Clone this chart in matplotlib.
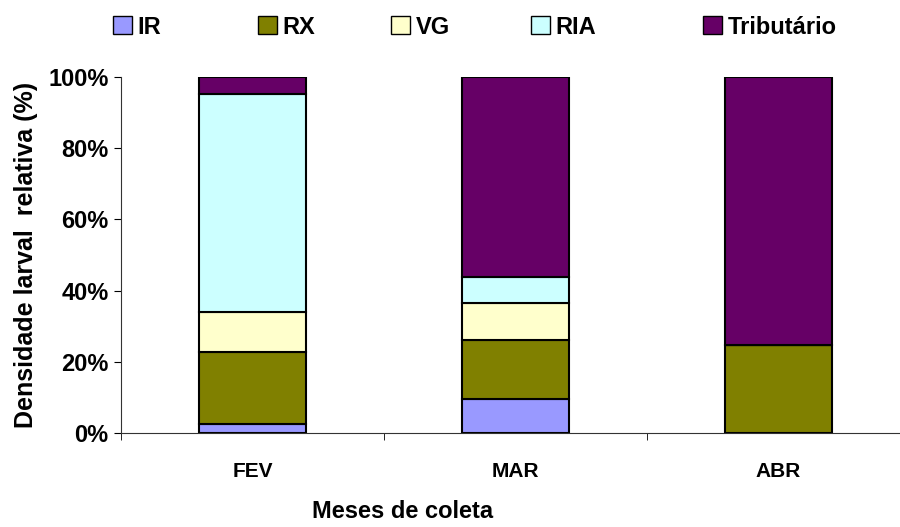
import matplotlib
matplotlib.use("Agg")
import matplotlib.pyplot as plt
from matplotlib.patches import Patch
import numpy as np

plt.rcParams['font.family'] = ['Liberation Sans', 'DejaVu Sans']
plt.rcParams['font.weight'] = 'bold'

meses = ["FEV", "MAR", "ABR"]
series = ["IR", "RX", "VG", "RIA", "Tributário"]
cores = ["#9999FF", "#808000", "#FFFFCC", "#CCFFFF", "#660066"]

# percentuais por local (leitura do grafico)
IR = [2.4, 9.5, 0.0]
RX = [20.4, 16.6, 24.7]
VG = [11.1, 10.3, 0.0]
RIA = [61.3, 7.3, 0.0]
Trib = [4.8, 56.3, 75.3]

valores = [IR, RX, VG, RIA, Trib]

fig = plt.figure(figsize=(9, 5.27), dpi=100)
ax = fig.add_axes([121/900, 1-433/527, 1-121/900, (433-77)/527])

x = np.arange(len(meses))
base = np.zeros(len(meses))
for nome, v, c in zip(series, valores, cores):
    v = np.array(v)
    ax.bar(x, v, 0.41, bottom=base, color=c, edgecolor='black',
           linewidth=1.5, label=nome)
    base = base + v

ax.set_xlim(-0.5, 2.462)
ax.set_ylim(0, 100)
ax.set_yticks(np.arange(0, 101, 20))
ax.set_yticklabels(["%d%%" % t for t in range(0, 101, 20)])
ax.set_xticks(x)
ax.set_xticklabels(meses)
ax.set_xticks([-0.5, 0.5, 1.5], minor=True)
ax.tick_params(axis='x', which='major', length=0, pad=21, labelsize=15)
ax.tick_params(axis='x', which='minor', length=5, direction='out')
ax.tick_params(axis='y', length=5, direction='out', labelsize=17, pad=4)
for s in ['top', 'right']:
    ax.spines[s].set_visible(False)
ax.spines['left'].set_color('#333333')
ax.spines['bottom'].set_color('#333333')

ax.set_ylabel("Densidade larval  relativa (%)", fontsize=18, fontweight='bold', labelpad=7)
fig.text(403/900, 4/527, "Meses de coleta",
         ha='center', va='bottom', fontsize=17, fontweight='bold')

# legenda: uma entrada por posicao, como no original
pos_leg = [113, 258, 391, 531, 703]
for nome, c, px in zip(series, cores, pos_leg):
    h = Patch(facecolor=c, edgecolor='black', linewidth=1.0)
    lg = fig.legend([h], [nome], loc='center left',
                    bbox_to_anchor=(px/900, 1-27/527), frameon=False,
                    fontsize=17, handlelength=0.8, handleheight=0.8,
                    handletextpad=0.25, borderpad=0, borderaxespad=0)

fig.savefig("out.png", dpi=100)
